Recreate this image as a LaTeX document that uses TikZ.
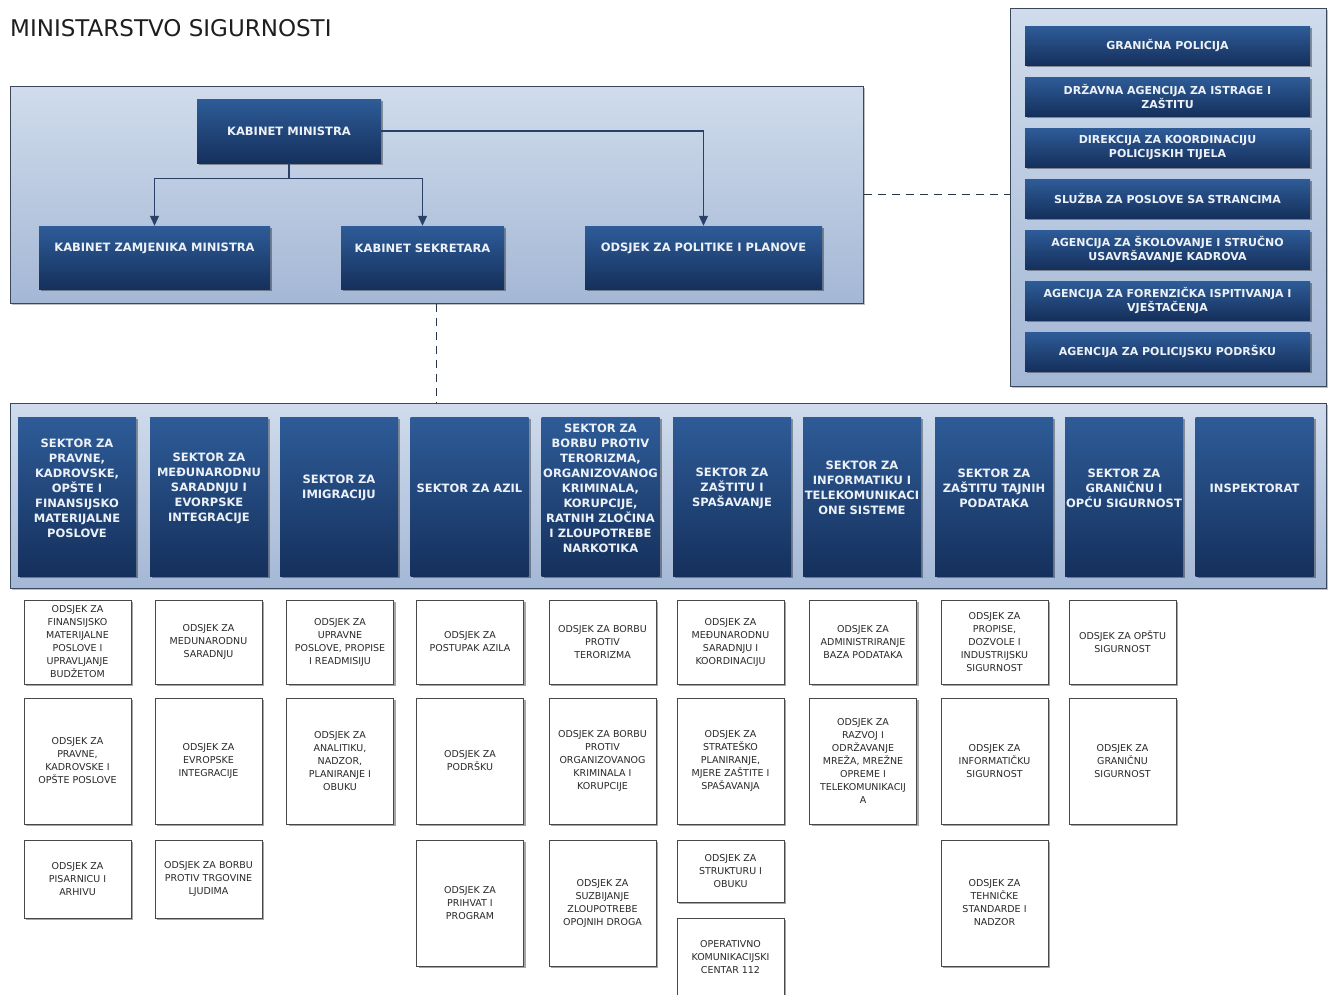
\documentclass[tikz,border=0pt]{standalone}
\usepackage{fontspec}
\setmainfont{DejaVu Sans}
\usetikzlibrary{arrows.meta,shadows,calc}
\definecolor{pantop}{RGB}{208,220,236}
\definecolor{panbot}{RGB}{164,183,213}
\definecolor{panline}{RGB}{58,72,92}
\definecolor{dashcol}{RGB}{40,52,72}
\definecolor{boxtop}{RGB}{46,92,152}
\definecolor{boxbot}{RGB}{21,48,92}
\definecolor{boxtxt}{RGB}{236,241,248}
\definecolor{conncol}{RGB}{42,64,102}
\definecolor{wline}{RGB}{72,72,72}
\definecolor{wtxt}{RGB}{40,40,40}
\definecolor{titlecol}{RGB}{30,30,30}
\tikzset{
  panel/.style={rectangle, inner sep=0pt, draw=panline, line width=1pt, top color=pantop, bottom color=panbot,
    drop shadow={shadow xshift=1.5pt, shadow yshift=-1.5pt, fill=black, opacity=0.25}},
  dbox/.style={rectangle, inner sep=0pt, top color=boxtop, bottom color=boxbot,
    drop shadow={shadow xshift=2pt, shadow yshift=-2pt, fill=black, opacity=0.35}},
  dtext/.style={text=boxtxt, font=\bfseries\fontsize{11.5}{15}\selectfont, align=center, inner sep=0pt},
  rtext/.style={text=boxtxt, font=\bfseries\fontsize{11}{14.5}\selectfont, align=center, inner sep=0pt},
  wbox/.style={rectangle, inner sep=0pt, fill=white, draw=wline, line width=1pt, minimum width=107pt,
    text=wtxt, font=\fontsize{9.5}{13}\selectfont, align=center,
    drop shadow={shadow xshift=2pt, shadow yshift=-2pt, fill=black, opacity=0.35}},
  conn/.style={draw=conncol, line width=1.2pt},
  arr/.style={conn, -{Triangle[length=10pt,width=9pt]}},
  dashline/.style={draw=dashcol, line width=1.7pt, dash pattern=on 8pt off 6pt},
  sbox/.style={dbox, minimum width=118pt, minimum height=159pt},
}
\begin{document}
\begin{tikzpicture}[x=1pt,y=-1pt]
\useasboundingbox (0,0) rectangle (1333,994);
\fill[white] (0,0) rectangle (1333,994);

\node[anchor=base west, inner sep=0pt, text=titlecol, font=\fontsize{23}{27}\selectfont] (title) at (10,36) {MINISTARSTVO SIGURNOSTI};

% panels
\node[panel, minimum width=853pt, minimum height=217pt] (tp) at (436.5,194.5) {};
\node[panel, minimum width=316pt, minimum height=378pt] (rp) at (1168,197) {};
\node[panel, minimum width=1316pt, minimum height=185pt] (sp) at (668,495.5) {};

% top panel boxes
\node[dbox, minimum width=184pt, minimum height=64pt] (km) at (289,131) {};
\node[dtext] (kmt) at (km.center) {KABINET MINISTRA};
\node[dbox, minimum width=231pt, minimum height=63pt] (kzm) at (154.5,257.5) {};
\node[dtext] (kzmt) at ([yshift=9pt]kzm.center) {KABINET ZAMJENIKA MINISTRA};
\node[dbox, minimum width=163pt, minimum height=63pt] (ks) at (422.5,257.5) {};
\node[dtext] (kst) at ([yshift=9pt]ks.center) {KABINET SEKRETARA};
\node[dbox, minimum width=237pt, minimum height=63pt] (opp) at (703.5,257.5) {};
\node[dtext] (oppt) at ([yshift=9pt]opp.center) {ODSJEK ZA POLITIKE I PLANOVE};

\coordinate (kmj) at ([yshift=-15pt]km.south);
\draw[conn] (km.south) -- (kmj);
\draw[arr] (kmj) -| (kzm.north);
\draw[arr] (kmj) -| (ks.north);
\draw[arr] (km.east) -| (opp.north);

% dashed links
\draw[dashline] (tp.east) -- (tp.east -| rp.west);
\draw[dashline] (tp.south) -- (tp.south |- sp.north);

% right panel boxes
\node[dbox, rtext, minimum width=285pt, minimum height=39pt] (r1) at (1167.5,45.5) {GRANIČNA POLICIJA};
\node[dbox, rtext, minimum width=285pt, minimum height=39pt] (r2) at (1167.5,96.5) {DRŽAVNA AGENCIJA ZA ISTRAGE I\\ZAŠTITU};
\node[dbox, rtext, minimum width=285pt, minimum height=39pt] (r3) at (1167.5,147.5) {DIREKCIJA ZA KOORDINACIJU\\POLICIJSKIH TIJELA};
\node[dbox, rtext, minimum width=285pt, minimum height=39pt] (r4) at (1167.5,198.5) {SLUŽBA ZA POSLOVE SA STRANCIMA};
\node[dbox, rtext, minimum width=285pt, minimum height=39pt] (r5) at (1167.5,249.5) {AGENCIJA ZA ŠKOLOVANJE I STRUČNO\\USAVRŠAVANJE KADROVA};
\node[dbox, rtext, minimum width=285pt, minimum height=39pt] (r6) at (1167.5,300.5) {AGENCIJA ZA FORENZIČKA ISPITIVANJA I\\VJEŠTAČENJA};
\node[dbox, rtext, minimum width=285pt, minimum height=39pt] (r7) at (1167.5,351.5) {AGENCIJA ZA POLICIJSKU PODRŠKU};

% sector boxes
\node[sbox] (s0) at (77,496.5) {};
\node[dtext] (st0) at ([yshift=8.5pt]s0.center) {SEKTOR ZA\\PRAVNE,\\KADROVSKE,\\OPŠTE I\\FINANSIJSKO\\MATERIJALNE\\POSLOVE};
\node[sbox] (s1) at (209,496.5) {};
\node[dtext] (st1) at ([yshift=8.5pt]s1.center) {SEKTOR ZA\\MEĐUNARODNU\\SARADNJU I\\EVORPSKE\\INTEGRACIJE};
\node[sbox] (s2) at (339,496.5) {};
\node[dtext] (st2) at ([yshift=8.5pt]s2.center) {SEKTOR ZA\\IMIGRACIJU};
\node[sbox] (s3) at (469.5,496.5) {};
\node[dtext] (st3) at ([yshift=8.5pt]s3.center) {SEKTOR ZA AZIL};
\node[sbox] (s4) at (600.5,496.5) {};
\node[dtext] (st4) at ([yshift=8.5pt]s4.center) {SEKTOR ZA\\BORBU PROTIV\\TERORIZMA,\\ORGANIZOVANOG\\KRIMINALA,\\KORUPCIJE,\\RATNIH ZLOČINA\\I ZLOUPOTREBE\\NARKOTIKA};
\node[sbox] (s5) at (732,496.5) {};
\node[dtext] (st5) at ([yshift=8.5pt]s5.center) {SEKTOR ZA\\ZAŠTITU I\\SPAŠAVANJE};
\node[sbox] (s6) at (862,496.5) {};
\node[dtext] (st6) at ([yshift=8.5pt]s6.center) {SEKTOR ZA\\INFORMATIKU I\\TELEKOMUNIKACI\\ONE SISTEME};
\node[sbox] (s7) at (994,496.5) {};
\node[dtext] (st7) at ([yshift=8.5pt]s7.center) {SEKTOR ZA\\ZAŠTITU TAJNIH\\PODATAKA};
\node[sbox] (s8) at (1124,496.5) {};
\node[dtext] (st8) at ([yshift=8.5pt]s8.center) {SEKTOR ZA\\GRANIČNU I\\OPĆU SIGURNOST};
\node[sbox] (s9) at (1254.5,496.5) {};
\node[dtext] (st9) at ([yshift=8.5pt]s9.center) {INSPEKTORAT};

% odsjek boxes
% column 1
\node[wbox, minimum height=84pt] (o11) at (77.5,642) {ODSJEK ZA\\FINANSIJSKO\\MATERIJALNE\\POSLOVE I\\UPRAVLJANJE\\BUDŽETOM};
\node[wbox, minimum height=126pt] (o12) at (77.5,761) {ODSJEK ZA\\PRAVNE,\\KADROVSKE I\\OPŠTE POSLOVE};
\node[wbox, minimum height=78pt] (o13) at (77.5,879) {ODSJEK ZA\\PISARNICU I\\ARHIVU};
% column 2
\node[wbox, minimum height=84pt] (o21) at (208.5,642) {ODSJEK ZA\\MEDUNARODNU\\SARADNJU};
\node[wbox, minimum height=126pt] (o22) at (208.5,761) {ODSJEK ZA\\EVROPSKE\\INTEGRACIJE};
\node[wbox, minimum height=78pt] (o23) at (208.5,879) {ODSJEK ZA BORBU\\PROTIV TRGOVINE\\LJUDIMA};
% column 3
\node[wbox, minimum height=84pt] (o31) at (340,642) {ODSJEK ZA\\UPRAVNE\\POSLOVE, PROPISE\\I READMISIJU};
\node[wbox, minimum height=126pt] (o32) at (340,761) {ODSJEK ZA\\ANALITIKU,\\NADZOR,\\PLANIRANJE I\\OBUKU};
% column 4
\node[wbox, minimum height=84pt] (o41) at (470,642) {ODSJEK ZA\\POSTUPAK AZILA};
\node[wbox, minimum height=126pt] (o42) at (470,761) {ODSJEK ZA\\PODRŠKU};
\node[wbox, minimum height=126pt] (o43) at (470,903) {ODSJEK ZA\\PRIHVAT I\\PROGRAM};
% column 5
\node[wbox, minimum height=84pt] (o51) at (602.5,642) {ODSJEK ZA BORBU\\PROTIV\\TERORIZMA};
\node[wbox, minimum height=126pt] (o52) at (602.5,761) {ODSJEK ZA BORBU\\PROTIV\\ORGANIZOVANOG\\KRIMINALA I\\KORUPCIJE};
\node[wbox, minimum height=126pt] (o53) at (602.5,903) {ODSJEK ZA\\SUZBIJANJE\\ZLOUPOTREBE\\OPOJNIH DROGA};
% column 6
\node[wbox, minimum height=84pt] (o61) at (730.5,642) {ODSJEK ZA\\MEĐUNARODNU\\SARADNJU I\\KOORDINACIJU};
\node[wbox, minimum height=126pt] (o62) at (730.5,761) {ODSJEK ZA\\STRATEŠKO\\PLANIRANJE,\\MJERE ZAŠTITE I\\SPAŠAVANJA};
\node[wbox, minimum height=62pt] (o63) at (730.5,871) {ODSJEK ZA\\STRUKTURU I\\OBUKU};
\node[wbox, minimum height=78pt] (o64) at (730.5,957) {OPERATIVNO\\KOMUNIKACIJSKI\\CENTAR 112};
% column 7
\node[wbox, minimum height=84pt] (o71) at (863,642) {ODSJEK ZA\\ADMINISTRIRANJE\\BAZA PODATAKA};
\node[wbox, minimum height=126pt] (o72) at (863,761) {ODSJEK ZA\\RAZVOJ I\\ODRŽAVANJE\\MREŽA, MREŽNE\\OPREME I\\TELEKOMUNIKACIJ\\A};
% column 8
\node[wbox, minimum height=84pt] (o81) at (994.5,642) {ODSJEK ZA\\PROPISE,\\DOZVOLE I\\INDUSTRIJSKU\\SIGURNOST};
\node[wbox, minimum height=126pt] (o82) at (994.5,761) {ODSJEK ZA\\INFORMATIČKU\\SIGURNOST};
\node[wbox, minimum height=126pt] (o83) at (994.5,903) {ODSJEK ZA\\TEHNIČKE\\STANDARDE I\\NADZOR};
% column 9
\node[wbox, minimum height=84pt] (o91) at (1122.5,642) {ODSJEK ZA OPŠTU\\SIGURNOST};
\node[wbox, minimum height=126pt] (o92) at (1122.5,761) {ODSJEK ZA\\GRANIČNU\\SIGURNOST};
\end{tikzpicture}
\end{document}
